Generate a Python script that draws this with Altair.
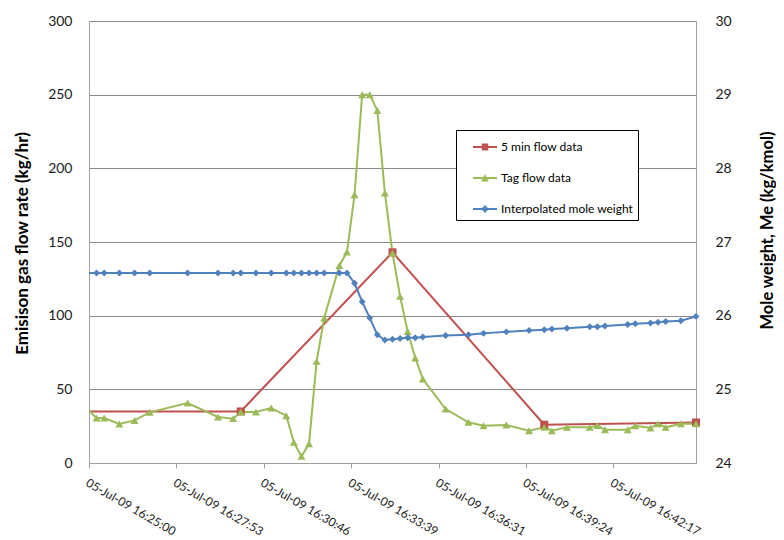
import json
import altair as alt
import pandas as pd

# ---------------- data ----------------
NAMES = ["5 min flow data", "Tag flow data", "Interpolated mole weight"]
COLORS = ["#C0504D", "#9BBB59", "#4F81BD"]

tick_labels = ["05-Jul-09 16:25:00", "05-Jul-09 16:27:53", "05-Jul-09 16:30:46",
               "05-Jul-09 16:33:39", "05-Jul-09 16:36:31", "05-Jul-09 16:39:24",
               "05-Jul-09 16:42:17"]

five_min_times = ["16:20:00", "16:30:00", "16:35:00", "16:40:00", "16:45:00"]
five_min_flow = [35, 35, 143, 26, 27.5]

tag_times = ["16:24:45", "16:25:15", "16:25:30", "16:26:00", "16:26:30", "16:27:00",
             "16:28:15", "16:29:15", "16:29:45", "16:30:00", "16:30:30", "16:31:00",
             "16:31:30", "16:31:45", "16:32:00", "16:32:15", "16:32:30", "16:32:45",
             "16:33:15", "16:33:30", "16:33:45", "16:34:00", "16:34:15", "16:34:30",
             "16:34:45", "16:35:00", "16:35:15", "16:35:30", "16:35:45", "16:36:00",
             "16:36:45", "16:37:30", "16:38:00", "16:38:45", "16:39:30", "16:40:00",
             "16:40:15", "16:40:45", "16:41:30", "16:41:45", "16:42:00", "16:42:45",
             "16:43:00", "16:43:30", "16:43:45", "16:44:00", "16:44:30", "16:45:00"]

tag_flow = [40.5, 30.5, 30.5, 26.5, 28.9, 34.4, 40.7, 31.2, 30.1, 34.6,
            34.6, 37.3, 32.1, 14.0, 4.5, 13.1, 69.0, 98.4, 134.1, 143.2,
            182.1, 250, 250, 239.3, 183.2, 142.5, 113.1, 89.3, 71.3, 57.0,
            36.6, 27.6, 25.3, 25.8, 21.9, 24.2, 21.9, 24.2, 24.2, 25.5,
            22.6, 22.6, 25.3, 23.7, 26.7, 24.2, 26.7, 26.7]

mole_weight = [26.58] * 20 + [26.44, 26.19, 25.97, 25.74, 25.67, 25.68, 25.69, 25.70,
                              25.70, 25.71, 25.73, 25.74, 25.76, 25.78, 25.80, 25.81,
                              25.82, 25.83, 25.85, 25.85, 25.86, 25.88, 25.89, 25.90,
                              25.91, 25.92, 25.93, 25.99]

START = "16:25:00"
TICK_STEP = 172.8  # Excel major unit 0.002 day


def secs(t):
    h, m, s = map(int, t.split(":"))
    h0, m0, s0 = map(int, START.split(":"))
    return (h * 3600 + m * 60 + s) - (h0 * 3600 + m0 * 60 + s0)


rows = []
for t, v in zip(five_min_times, five_min_flow):
    rows.append({"series": NAMES[0], "s": secs(t), "value": v})
for t, v in zip(tag_times, tag_flow):
    rows.append({"series": NAMES[1], "s": secs(t), "value": v})
for t, v in zip(tag_times, mole_weight):
    rows.append({"series": NAMES[2], "s": secs(t), "value": v})
df = pd.DataFrame(rows)

FONT = "Lato"
GRID = "#8a8a8a"
DOMAIN = "#a0a0a0"
TEXT = "#1a1a1a"

# legend symbols: a line with a "filled" marker drawn by strokes
LEGEND_PATHS = [
    "M-1,0H1M-0.27,-0.2H0.27M-0.27,-0.067H0.27M-0.27,0.067H0.27M-0.27,0.2H0.27",
    "M-1,0H1M-0.056,-0.2H0.056M-0.13,-0.067H0.13M-0.204,0.067H0.204M-0.278,0.2H0.278",
    "M-1,0H1M-0.1,-0.2H0.1M-0.233,-0.067H0.233M-0.233,0.067H0.233M-0.1,0.2H0.1",
]

LEG = alt.Legend(
    title=None, orient="none", legendX=367, legendY=109, padding=4,
    strokeColor="black", fillColor="white", symbolSize=576,
    symbolStrokeWidth=2, symbolOffset=12, labelOffset=3,
    labelFont=FONT, labelFontSize=12, labelColor="black", rowPadding=11,
    symbolOpacity=1,
)

color_scale = alt.Scale(domain=NAMES, range=COLORS)
tick_vals = [i * TICK_STEP for i in range(len(tick_labels))]

x_enc = alt.X(
    "s:Q",
    scale=alt.Scale(domain=[0, 1200], nice=False, zero=False),
    axis=alt.Axis(
        values=tick_vals,
        labelExpr=f"{json.dumps(tick_labels)}[round(datum.value / {TICK_STEP})]",
        labelAngle=30, labelAlign="left", labelBaseline="top",
        labelPadding=9, labelFont=FONT, labelFontSize=12, labelColor=TEXT,
        labelFlush=False, labelOverlap=False, labelBound=False,
        grid=False, ticks=True, tickSize=5, tickColor=DOMAIN,
        domainColor=DOMAIN, title=None,
    ),
)

color_enc = alt.Color("series:N", scale=color_scale, legend=LEG)

shape_enc = {
    "condition": [
        {"test": f"datum.series === '{NAMES[0]}'", "value": "square"},
        {"test": f"datum.series === '{NAMES[1]}'", "value": "triangle-up"},
    ],
    "value": "diamond",
}
size_enc = {
    "condition": [
        {"test": f"datum.series === '{NAMES[0]}'", "value": 64},
        {"test": f"datum.series === '{NAMES[1]}'", "value": 64},
    ],
    "value": 48,
}

left_axis = alt.Axis(
    values=[0, 50, 100, 150, 200, 250, 300],
    grid=True, gridColor=GRID, gridWidth=1, ticks=False,
    domainColor=DOMAIN, labelPadding=17, labelFont=FONT, labelFontSize=14,
    labelColor=TEXT, labelFlush=False, labelOverlap=False,
    title="Emisison gas flow rate (kg/hr)", titleFont=FONT, titleFontSize=17,
    titleFontWeight="bold", titleColor="black", titleAngle=270,
    titleX=-67, titleY=222, titleAlign="center", titleBaseline="middle",
)
right_axis = alt.Axis(
    orient="right", values=[24, 25, 26, 27, 28, 29, 30],
    grid=False, ticks=False, domainColor=DOMAIN, labelPadding=19,
    labelFont=FONT, labelFontSize=14, labelColor=TEXT, labelFlush=False,
    labelOverlap=False,
    title="Mole weight, Me (kg/kmol)", titleFont=FONT, titleFontSize=16.5,
    titleFontWeight="bold", titleColor="black", titleAngle=270,
    titleX=71, titleY=209, titleAlign="center", titleBaseline="middle",
)

y_left = alt.Y("value:Q", scale=alt.Scale(domain=[0, 300], nice=False), axis=left_axis)
y_right = alt.Y("value:Q", scale=alt.Scale(domain=[24, 30], nice=False, zero=False),
                axis=right_axis)

base = alt.Chart(df)
left_base = base.transform_filter(alt.FieldOneOfPredicate(field="series", oneOf=NAMES[:2]))
right_base = base.transform_filter(alt.FieldEqualPredicate(field="series", equal=NAMES[2]))

# empty layer that only carries the legend (first, so its styling wins)
legend_layer = base.transform_filter("false").mark_point(
    filled=False, opacity=1, strokeWidth=2).encode(
    x=x_enc, y=y_left, color=color_enc,
    shape=alt.Shape("series:N", scale=alt.Scale(domain=NAMES, range=LEGEND_PATHS),
                    legend=LEG),
)

left_lines = left_base.mark_line(strokeWidth=2, clip=True).encode(
    x=x_enc, y=y_left, color=color_enc)
left_points = left_base.transform_filter("datum.s >= 0").mark_point(
    filled=True, opacity=1, strokeWidth=0).encode(
    x=x_enc, y=y_left, color=color_enc, shape=shape_enc, size=size_enc)

right_lines = right_base.mark_line(strokeWidth=2, clip=True).encode(
    x=x_enc, y=y_right, color=color_enc)
right_points = right_base.transform_filter("datum.s >= 0").mark_point(
    filled=True, opacity=1, strokeWidth=0).encode(
    x=x_enc, y=y_right, color=color_enc, shape=shape_enc, size=size_enc)

left = alt.layer(legend_layer, left_lines, left_points)
right = alt.layer(right_lines, right_points)

chart = alt.layer(left, right).resolve_scale(y="independent").properties(
    width=607, height=442,
    padding={"left": 81, "top": 13, "right": 80, "bottom": 77},
    autosize=alt.AutoSizeParams(type="none"),
    background="white",
).configure_view(strokeWidth=0)

chart.save("out.html", embed_options={"renderer": "svg", "actions": False})
